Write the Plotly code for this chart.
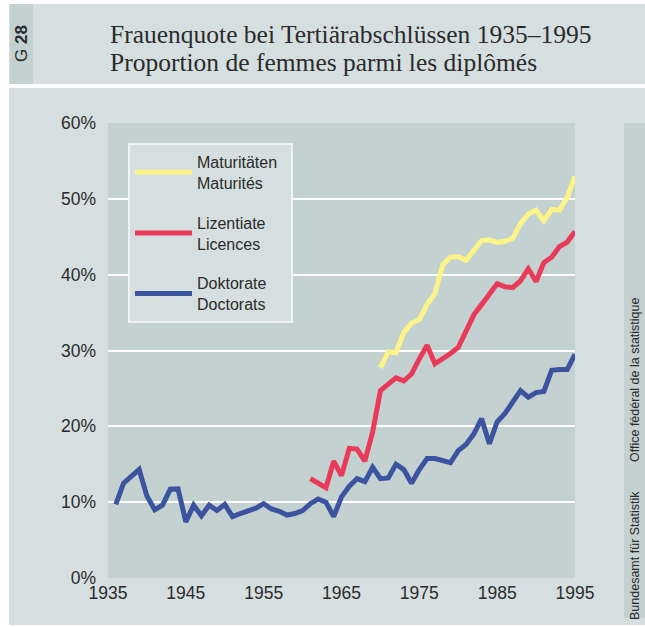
import plotly.graph_objects as go

# ---- data ----
years_doc = list(range(1936, 1996))
doktorate = [9.7, 12.5, 13.4, 14.3, 10.8, 9.0, 9.6, 11.7, 11.75, 7.4,
             9.6, 8.2, 9.6, 8.9, 9.7, 8.1, 8.5, 8.9, 9.2, 9.8,
             9.1, 8.8, 8.3, 8.5, 8.9, 9.8, 10.4, 10.0, 8.1, 10.7,
             12.1, 13.1, 12.7, 14.6, 13.1, 13.2, 15.0, 14.3, 12.5, 14.3,
             15.75, 15.75, 15.5, 15.2, 16.8, 17.6, 19.0, 21.0, 17.7, 20.6,
             21.7, 23.2, 24.7, 23.85, 24.45, 24.6, 27.4, 27.5, 27.5, 29.5]

years_lic = list(range(1961, 1996))
lizentiate = [13.1, 12.5, 11.9, 15.4, 13.5, 17.1, 17.0, 15.4, 19.25, 24.7,
              25.6, 26.4, 26.0, 26.9, 28.9, 30.7, 28.25, 28.9, 29.6, 30.4,
              32.4, 34.7, 36.05, 37.5, 38.8, 38.4, 38.3, 39.2, 40.75, 39.1,
              41.6, 42.3, 43.7, 44.3, 45.7]

years_mat = list(range(1970, 1996))
maturitaeten = [27.7, 29.8, 29.7, 32.4, 33.6, 34.1, 36.1, 37.5, 41.3, 42.3,
                42.4, 41.9, 43.2, 44.5, 44.6, 44.25, 44.4, 44.8, 46.7, 48.0,
                48.5, 47.1, 48.6, 48.5, 50.2, 53.0]

series_names = ["Maturitäten&nbsp;&nbsp;<br>Maturités", "Lizentiate<br>Licences", "Doktorate<br>Doctorats"]
x_ticks = [1935, 1945, 1955, 1965, 1975, 1985, 1995]
y_ticks = [0, 10, 20, 30, 40, 50, 60]

title_de = "Frauenquote bei Tertiärabschlüssen 1935–1995"
title_fr = "Proportion de femmes parmi les diplômés"

# ---- style ----
W, H = 645, 627
L, R, T, B = 108, 575, 123, 578
PANEL = "#d5dfdf"
PLOTBG = "#c3d1d1"
DARK = "#c3d1d1"
TXT = "#2b2b2b"
SANS = "Liberation Sans, Arial, sans-serif"
SERIF = "Liberation Serif, Times New Roman, serif"
colors = ["#fcf389", "#ea3a5a", "#3c539f"]

def px(xp):
    return (xp - L) / (R - L)

def py(yp):
    return (B - yp) / (B - T)

fig = go.Figure()
for xs, ys, nm, c in [(years_mat, maturitaeten, series_names[0], colors[0]),
                      (years_lic, lizentiate, series_names[1], colors[1]),
                      (years_doc, doktorate, series_names[2], colors[2])]:
    fig.add_trace(go.Scatter(x=xs, y=ys, mode="lines", name=nm, legendgroup=nm,
                             line=dict(color=c, width=5)))

shapes = []
def rect(x0, y0, x1, y1, color):
    shapes.append(dict(type="rect", xref="paper", yref="paper",
                       x0=px(x0), x1=px(x1), y0=py(y1), y1=py(y0),
                       fillcolor=color, line=dict(width=0), layer="above"))

rect(0, 0, 9, H, "white")          # left white margin
rect(0, 0, W, 4, "white")          # top white margin
rect(9, 84, W, 88, "white")        # separating white line
rect(10, 4, 33, 84, DARK)          # G 28 strip
rect(624, 123, W, 618, DARK)       # right source strip
rect(0, 625, W, H, "white")        # bottom white margin

annotations = [
    dict(text=title_de, x=px(108), y=py(34), xref="paper", yref="paper",
         xanchor="left", yanchor="middle", showarrow=False,
         font=dict(family=SERIF, size=25.5, color=TXT)),
    dict(text=title_fr, x=px(108), y=py(62), xref="paper", yref="paper",
         xanchor="left", yanchor="middle", showarrow=False,
         font=dict(family=SERIF, size=25.5, color=TXT)),
    dict(text="G <b>28</b>", x=px(22), y=py(44), xref="paper", yref="paper",
         xanchor="center", yanchor="middle", showarrow=False, textangle=-90,
         font=dict(family=SANS, size=17, color=TXT)),
    dict(text="Bundesamt für Statistik", x=px(635), y=py(556), xref="paper", yref="paper",
         xanchor="center", yanchor="middle", showarrow=False, textangle=-90,
         font=dict(family=SANS, size=12.5, color=TXT)),
    dict(text="Office fédéral de la statistique", x=px(635), y=py(380), xref="paper", yref="paper",
         xanchor="center", yanchor="middle", showarrow=False, textangle=-90,
         font=dict(family=SANS, size=12.5, color=TXT)),
]

fig.update_layout(
    width=W, height=H,
    margin=dict(l=L, r=W - R, t=T, b=H - B, pad=0),
    paper_bgcolor=PANEL, plot_bgcolor=PLOTBG,
    shapes=shapes, annotations=annotations,
    showlegend=True,
    legend=dict(x=px(128), y=py(143), xanchor="left", yanchor="top",
                bgcolor=PANEL, bordercolor="#eef3f3", borderwidth=2,
                font=dict(family=SANS, size=16, color=TXT),
                tracegroupgap=16, itemwidth=57, traceorder="grouped"),
    xaxis=dict(range=[1935, 1995], tickvals=x_ticks, ticktext=[str(v) for v in x_ticks],
               showgrid=False, zeroline=False, showline=False, ticks="",
               tickfont=dict(family=SANS, size=17.5, color=TXT), ticklabelstandoff=2),
    yaxis=dict(range=[0, 60], tickvals=y_ticks, ticktext=[f"{v}%" for v in y_ticks],
               showgrid=True, gridcolor="white", gridwidth=1.5,
               zeroline=False, showline=False, ticks="",
               tickfont=dict(family=SANS, size=17.5, color=TXT), ticklabelstandoff=11),
)

fig.write_html("out.html", config={"displayModeBar": False},
               post_script="document.body.style.margin='0';document.body.style.overflow='hidden';")
